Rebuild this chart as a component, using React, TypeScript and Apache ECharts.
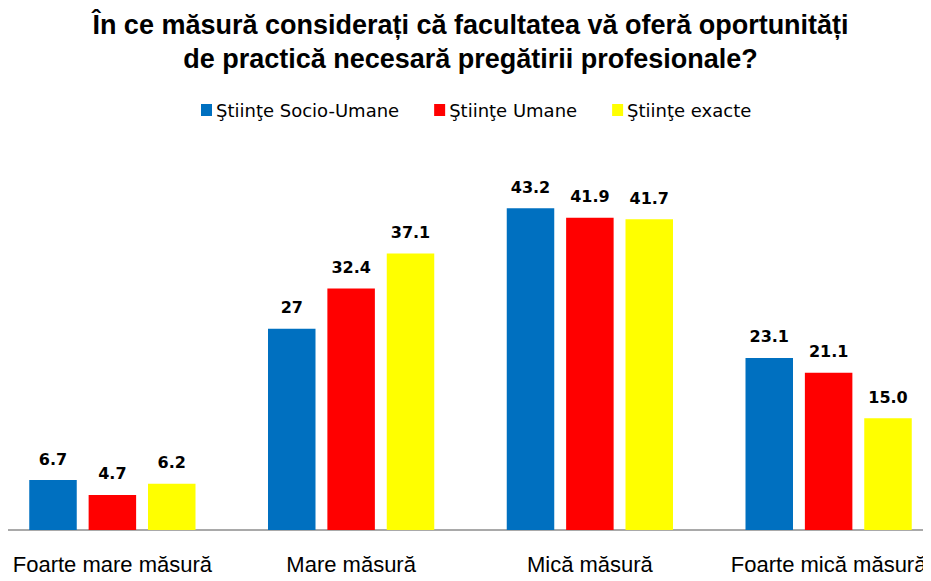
import React, { useEffect, useRef } from "react";
import * as echarts from "echarts";

const categories = ["Foarte mare măsură", "Mare măsură", "Mică măsură", "Foarte mică măsură"];
const seriesNames = ["Ştiinţe Socio-Umane", "Ştiinţe Umane", "Ştiinţe exacte"];
const socioUmane = [6.7, 27, 43.2, 23.1];
const umane = [4.7, 32.4, 41.9, 21.1];
const exacte = [6.2, 37.1, 41.7, 15.0];
const socioUmaneLabels = ["6.7", "27", "43.2", "23.1"];
const umaneLabels = ["4.7", "32.4", "41.9", "21.1"];
const exacteLabels = ["6.2", "37.1", "41.7", "15.0"];
const colors = ["#0070C0", "#FF0000", "#FFFF00"];

export default function App() {
  const ref = useRef<HTMLDivElement>(null);
  useEffect(() => {
    if (!ref.current) return;
    const chart = echarts.init(ref.current, null, { renderer: "svg" });
    const values = [socioUmane, umane, exacte];
    const labels = [socioUmaneLabels, umaneLabels, exacteLabels];
    chart.setOption({
      animation: false,
      backgroundColor: "#ffffff",
      title: {
        text: "În ce măsură considerați că facultatea vă oferă oportunități\nde practică necesară pregătirii profesionale?",
        left: "center",
        top: 3,
        textStyle: {
          fontFamily: "Liberation Sans",
          fontWeight: "bold",
          fontSize: 27,
          lineHeight: 34,
          color: "#000000",
        },
      },
      legend: {
        data: seriesNames,
        left: 203,
        top: 96,
        itemWidth: 11,
        itemHeight: 12,
        itemGap: 35,
        icon: "rect",
        textStyle: {
          fontFamily: "DejaVu Sans",
          fontSize: 18,
          color: "#000000",
          padding: [0, 0, 0, -1],
        },
      },
      grid: {
        left: 0,
        right: 0,
        top: 157.5,
        bottom: 51,
        containLabel: false,
      },
      xAxis: {
        type: "category",
        data: categories,
        axisTick: { show: false },
        axisLine: { lineStyle: { color: "#8c8c8c", width: 1.5 } },
        axisLabel: {
          fontFamily: "Liberation Sans",
          fontSize: 22,
          color: "#000000",
          margin: 23,
          interval: 0,
        },
      },
      yAxis: {
        type: "value",
        min: 0,
        max: 50,
        show: false,
        splitLine: { show: false },
      },
      series: seriesNames.map((name, i) => ({
        name,
        type: "bar",
        data: values[i],
        barWidth: 47.5,
        barGap: "25%",
        itemStyle: { color: colors[i] },
        label: {
          show: true,
          position: "top",
          distance: 13,
          fontFamily: "DejaVu Sans",
          fontWeight: "bold",
          fontSize: 16,
          color: "#000000",
          formatter: (p: any) => labels[i][p.dataIndex],
        },
      })),
    });
    return () => chart.dispose();
  }, []);
  return (
    <div style={{ width: 931, height: 581, margin: -8, overflow: "hidden", position: "relative" }}>
      <div ref={ref} style={{ position: "absolute", left: -7, top: 0, width: 955, height: 581 }} />
    </div>
  );
}
